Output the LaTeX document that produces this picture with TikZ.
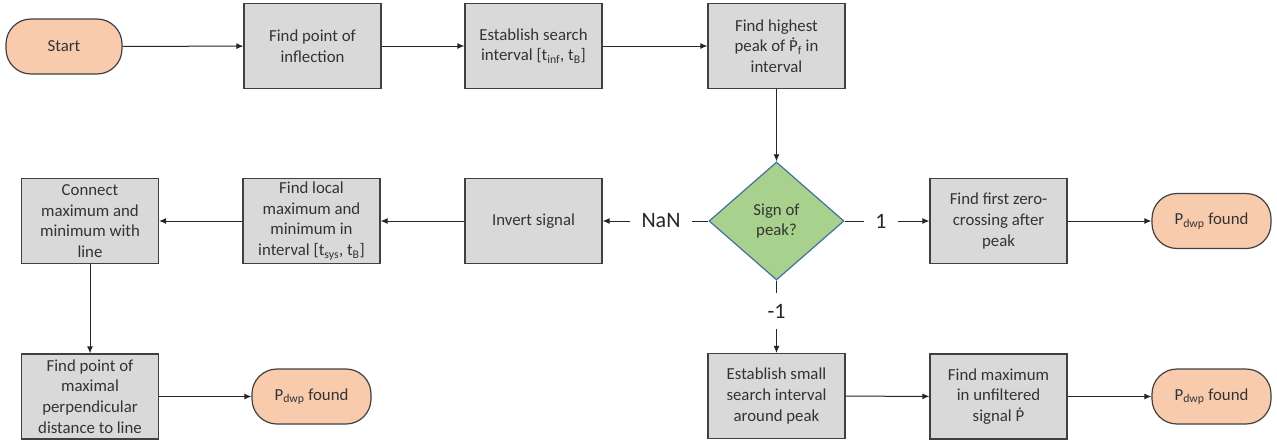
\documentclass[tikz,border=0pt]{standalone}
\usepackage{fontspec}
\setmainfont{Carlito}
\usetikzlibrary{shapes.geometric}
\usetikzlibrary{arrows.meta}

\definecolor{boxgray}{HTML}{D9D9D9}
\definecolor{peach}{HTML}{F8CBAD}
\definecolor{leaf}{HTML}{A9D18E}
\definecolor{edgeblue}{HTML}{41719C}
\definecolor{ink}{HTML}{404040}

\begin{document}
\begin{tikzpicture}[x=1pt,y=-1pt,
    >={Latex[length=7pt,width=6pt]},
    process/.style={draw=ink,line width=1.2pt,fill=boxgray,minimum width=137pt,minimum height=85pt,
        align=center,inner sep=2pt,text=black!80,font=\fontsize{16.8}{20.7}\selectfont},
    terminal/.style={draw=ink,line width=1.2pt,fill=peach,rounded corners=25pt,minimum width=119pt,
        minimum height=55pt,align=center,text=black!80,font=\fontsize{16.8}{20.7}\selectfont},
    decision/.style={diamond,draw=edgeblue,line width=1.2pt,fill=leaf,minimum width=135pt,
        minimum height=118pt,inner sep=0pt,align=center,text=black!80,font=\fontsize{16.8}{20.7}\selectfont},
    branch/.style={inner sep=11pt,text=black!85,font=\fontsize{22}{26}\selectfont},
    flow/.style={draw=black!85,line width=1pt}]
    \useasboundingbox (0,0) rectangle (1277,442);

    % top row
    \node[terminal,minimum width=116pt] (start) at (64,46.5) {Start};
    \node[process] (inflect) at (312.5,46) {Find point of\\inflection};
    \node[process] (search) at (533.5,46) {Establish search\\interval [t\textsubscript{inf}, t\textsubscript{B}]};
    \node[process] (highest) at (776.5,46) {Find highest\\peak of Ṗ\textsubscript{f} in\\interval};
    \draw[flow,->] (start) -- (inflect);
    \draw[flow,->] (inflect) -- (search);
    \draw[flow,->] (search) -- (highest);

    % decision
    \node[decision] (sign) at (776.5,221) {Sign of\\peak?};
    \draw[flow,->] (highest) -- (sign);

    % NaN branch
    \node[branch] (nan) at (661,221) {NaN};
    \node[process] (invert) at (533.5,221) {Invert signal};
    \node[process] (localmax) at (311.5,221) {Find local\\maximum and\\minimum in\\interval [t\textsubscript{sys}, t\textsubscript{B}]};
    \node[process] (connect) at (90,221) {Connect\\maximum and\\minimum with\\line};
    \node[process] (maxdist) at (90,396.5) {Find point of\\maximal\\perpendicular\\distance to line};
    \node[terminal] (foundA) at (311.5,396.5) {P\textsubscript{dwp} found};
    \draw[flow] (sign) -- (nan);
    \draw[flow,->] (nan) -- (invert);
    \draw[flow,->] (invert) -- (localmax);
    \draw[flow,->] (localmax) -- (connect);
    \draw[flow,->] (connect) -- (maxdist);
    \draw[flow,->] (maxdist) -- (foundA);

    % 1 branch
    \node[branch] (one) at (881,221) {1};
    \node[process] (zero) at (998.5,221) {Find first zero-\\crossing after\\peak};
    \node[terminal] (foundB) at (1211.5,221) {P\textsubscript{dwp} found};
    \draw[flow] (sign) -- (one);
    \draw[flow,->] (one) -- (zero);
    \draw[flow,->] (zero) -- (foundB);

    % -1 branch
    \node[branch] (minus) at (776.5,311) {-1};
    \node[process] (small) at (776.5,396) {Establish small\\search interval\\around peak};
    \node[process] (findmax) at (998.5,396.5) {Find maximum\\in unfiltered\\signal Ṗ};
    \node[terminal] (foundC) at (1211.5,396.5) {P\textsubscript{dwp} found};
    \draw[flow] (sign) -- (minus);
    \draw[flow,->] (minus) -- (small);
    \draw[flow,->] (small) -- (findmax);
    \draw[flow,->] (findmax) -- (foundC);
\end{tikzpicture}
\end{document}
